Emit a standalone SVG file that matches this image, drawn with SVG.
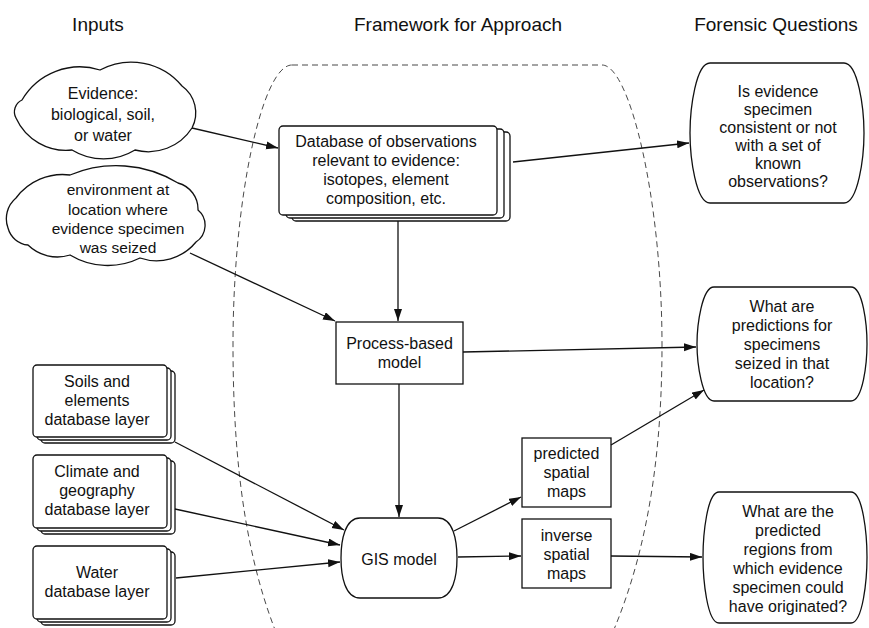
<svg xmlns="http://www.w3.org/2000/svg" width="869" height="628" viewBox="0 0 869 628">
<defs>
<marker id="ah" markerWidth="13" markerHeight="9" refX="12" refY="4" orient="auto" markerUnits="userSpaceOnUse">
<path d="M0,0 L12,4 L0,8 Z" fill="#111"/>
</marker>
<style>
text{font-family:"Liberation Sans",Arial,Helvetica,sans-serif;font-size:16px;fill:#111;text-anchor:middle}
.title{font-size:19px}
.small{font-size:15.5px}
.shape{fill:#fff;stroke:#111;stroke-width:1.3}
.conn line{stroke:#111;stroke-width:1.3;marker-end:url(#ah)}
.frame{fill:none;stroke:#333;stroke-width:0.9;stroke-dasharray:6 4}
</style>
</defs>
<rect width="869" height="628" fill="#fff"/>
<g id="titles">
<text class="title" x="98" y="31">Inputs</text>
<text class="title" x="458" y="31">Framework for Approach</text>
<text class="title" x="776" y="31">Forensic Questions</text>
</g>
<path id="framework" class="frame" d="M292,65 H602 C630,65 662,200 662,345 C662,480 640,580 600,660 H288 C250,580 233,480 233,345 C233,200 262,65 292,65 Z"/>
<g id="cloud-evidence">
<path class="shape" d="M22,100 A67 67 0 0 1 100,70 A66 66 0 0 1 182,86 A33 33 0 0 1 192,128 A52 52 0 0 1 135,150 A60 60 0 0 1 72,150 A55 55 0 0 1 16,118 A13 13 0 0 1 22,100 Z"/>
<text x="103" y="99">Evidence:</text>
<text x="103" y="120">biological, soil,</text>
<text x="103" y="141">or water</text>
</g>
<g id="cloud-environment">
<path class="shape" d="M16,198 A58 58 0 0 1 70,175 A119 119 0 0 1 178,183 A27 27 0 0 1 198,210 A20 20 0 0 1 196,242 A51 51 0 0 1 140,258 A73 73 0 0 1 70,255 A42 42 0 0 1 28,245 A23 23 0 0 1 8,228 A27 27 0 0 1 16,198 Z"/>
<text class="small" x="118" y="195">environment at</text>
<text class="small" x="118" y="215">location where</text>
<text class="small" x="118" y="234">evidence specimen</text>
<text class="small" x="118" y="253">was seized</text>
</g>
<g id="database">
<rect class="shape" x="292" y="132" width="218" height="89" rx="4"/>
<rect class="shape" x="286" y="129" width="218" height="89" rx="4"/>
<rect class="shape" x="279" y="126" width="218" height="89" rx="4"/>
<text x="386" y="147">Database of observations</text>
<text x="386" y="166">relevant to evidence:</text>
<text x="386" y="185">isotopes, element</text>
<text x="386" y="204">composition, etc.</text>
</g>
<g id="process">
<rect class="shape" x="336" y="322" width="127" height="62"/>
<text x="399.5" y="349">Process-based</text>
<text x="399.5" y="368">model</text>
</g>
<g id="soils">
<rect class="shape" x="41" y="371" width="134" height="72" rx="4"/>
<rect class="shape" x="37" y="368" width="134" height="72" rx="4"/>
<rect class="shape" x="33" y="365" width="134" height="72" rx="4"/>
<text x="97" y="387">Soils and</text>
<text x="97" y="406">elements</text>
<text x="97" y="425">database layer</text>
</g>
<g id="climate">
<rect class="shape" x="41" y="461" width="134" height="73" rx="4"/>
<rect class="shape" x="37" y="458" width="134" height="73" rx="4"/>
<rect class="shape" x="33" y="455" width="134" height="73" rx="4"/>
<text x="97" y="477">Climate and</text>
<text x="97" y="496">geography</text>
<text x="97" y="515">database layer</text>
</g>
<g id="water">
<rect class="shape" x="41" y="552" width="134" height="73" rx="4"/>
<rect class="shape" x="37" y="549" width="134" height="73" rx="4"/>
<rect class="shape" x="33" y="546" width="134" height="73" rx="4"/>
<text x="97" y="578">Water</text>
<text x="97" y="597">database layer</text>
</g>
<g id="gis">
<path class="shape" d="M360,518 H438 C453,518 457,540 457,558 C457,576 453,598 438,598 H360 C345,598 341,576 341,558 C341,540 345,518 360,518 Z"/>
<text x="399" y="565">GIS model</text>
</g>
<g id="predicted">
<rect class="shape" x="522" y="438" width="89" height="69"/>
<text x="566.5" y="459">predicted</text>
<text x="566.5" y="478">spatial</text>
<text x="566.5" y="497">maps</text>
</g>
<g id="inverse">
<rect class="shape" x="522" y="519" width="89" height="69"/>
<text x="566.5" y="541">inverse</text>
<text x="566.5" y="560">spatial</text>
<text x="566.5" y="579">maps</text>
</g>
<g id="q1">
<path class="shape" d="M710,63 H844 C858,63 864,108 864,133 C864,158 858,203 844,203 H710 C696,203 690,158 690,133 C690,108 696,63 710,63 Z"/>
<text x="778" y="97">Is evidence</text>
<text x="778" y="115">specimen</text>
<text x="778" y="133">consistent or not</text>
<text x="778" y="151">with a set of</text>
<text x="778" y="169">known</text>
<text x="778" y="187">observations?</text>
</g>
<g id="q2">
<path class="shape" d="M714,287 H851 C863,287 867,325 867,344 C867,363 863,401 851,401 H714 C702,401 697,363 697,344 C697,325 702,287 714,287 Z"/>
<text x="782" y="312">What are</text>
<text x="782" y="331">predictions for</text>
<text x="782" y="350">specimens</text>
<text x="782" y="369">seized in that</text>
<text x="782" y="388">location?</text>
</g>
<g id="q3">
<path class="shape" d="M719,492 H851 C863,492 867,535 867,557 C867,579 863,623 851,623 H719 C707,623 703,579 703,557 C703,535 707,492 719,492 Z"/>
<text x="788" y="517">What are the</text>
<text x="788" y="536">predicted</text>
<text x="788" y="555">regions from</text>
<text x="788" y="574">which evidence</text>
<text x="788" y="593">specimen could</text>
<text x="788" y="612">have originated?</text>
</g>
<g id="connectors" class="conn">
<line x1="192" y1="128" x2="278" y2="148"/>
<line x1="513" y1="162" x2="689" y2="143"/>
<line x1="398" y1="221" x2="398" y2="321"/>
<line x1="190" y1="253" x2="335" y2="321"/>
<line x1="463" y1="352" x2="696" y2="347"/>
<line x1="399" y1="384" x2="399" y2="517"/>
<line x1="175" y1="442" x2="344" y2="530"/>
<line x1="175" y1="509" x2="340" y2="545"/>
<line x1="176" y1="578" x2="340" y2="562"/>
<line x1="454" y1="531" x2="521" y2="497"/>
<line x1="458" y1="557" x2="521" y2="556"/>
<line x1="611" y1="445" x2="704" y2="390"/>
<line x1="611" y1="556" x2="702" y2="557"/>
</g>
</svg>
